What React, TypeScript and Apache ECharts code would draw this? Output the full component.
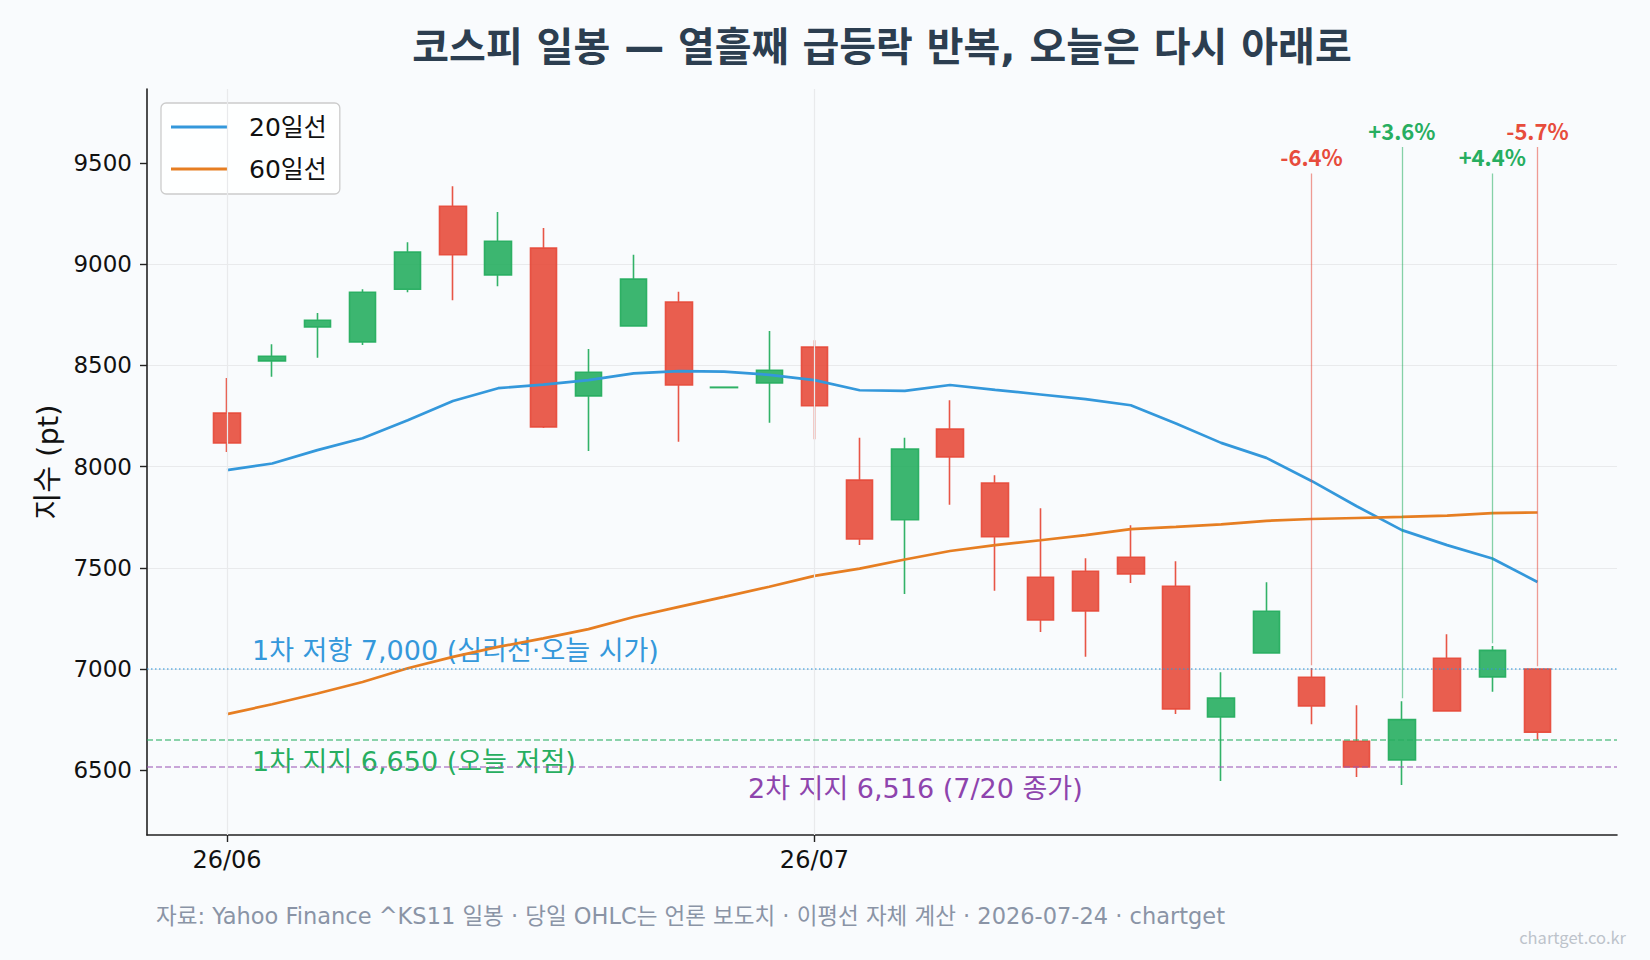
import React, { useEffect, useRef } from "react";
import * as echarts from "echarts";

// ---- data ----
const dates = [
  "06/12", "06/15", "06/16", "06/17", "06/18", "06/19", "06/22", "06/23", "06/24", "06/25",
  "06/26", "06/29", "06/30", "07/01", "07/02", "07/03", "07/06", "07/07", "07/08", "07/09",
  "07/10", "07/13", "07/14", "07/15", "07/16", "07/20", "07/21", "07/22", "07/23", "07/24",
];
const opens = [
  8264, 8522, 8690, 8616, 8876, 9286, 8947, 9079, 8349, 8695,
  8812, 8390, 8413, 8590, 7933, 7737, 8185, 7918, 7453, 7483,
  7552, 7409, 6763, 7079, 6959, 6643, 6551, 7053, 6961, 7000,
];
const closes = [
  8117, 8545, 8723, 8861, 9059, 9046, 9113, 8196, 8466, 8926,
  8403, 8392, 8476, 8300, 7643, 8086, 8048, 7653, 7242, 7287,
  7470, 6803, 6856, 7285, 6818, 6516, 6750, 6793, 7092, 6688,
];
const lows = [
  8072, 8443, 8537, 8600, 8861, 8822, 8891, 8190, 8077, 8690,
  8122, 8390, 8216, 8135, 7613, 7371, 7811, 7386, 7183, 7060,
  7425, 6778, 6447, 7079, 6727, 6467, 6427, 6790, 6887, 6650,
];
const highs = [
  8438, 8604, 8758, 8876, 9108, 9385, 9257, 9179, 8581, 9046,
  8863, 8392, 8669, 8624, 8142, 8142, 8328, 7957, 7794, 7547,
  7710, 7532, 6984, 7429, 7005, 6821, 6841, 7172, 7113, 7000,
];
const ma20 = [
  7982, 8015, 8081, 8140, 8229, 8324, 8387, 8405, 8427, 8460,
  8471, 8469, 8453, 8427, 8377, 8374, 8403, 8379, 8356, 8333,
  8303, 8213, 8117, 8043, 7929, 7804, 7686, 7612, 7546, 7430,
];
const ma60 = [
  6777, 6826, 6879, 6936, 7004, 7060, 7109, 7151, 7197, 7257,
  7307, 7356, 7406, 7460, 7496, 7541, 7583, 7612, 7636, 7661,
  7691, 7702, 7714, 7732, 7741, 7746, 7751, 7758, 7770, 7773,
];
const monthTickIndex = [0, 13];
const monthTickLabels = ["26/06", "26/07"];
const yTicks = [6500, 7000, 7500, 8000, 8500, 9000, 9500];

const annotIndex = [24, 26, 28, 29];
const annotText = ["-6.4%", "+3.6%", "+4.4%", "-5.7%"];
const annotTop = [9448, 9579, 9448, 9579];

const levelValues = [7000, 6650, 6516];
const levelLabels = [
  "1차 저항 7,000 (심리선·오늘 시가)",
  "1차 지지 6,650 (오늘 저점)",
  "2차 지지 6,516 (7/20 종가)",
];

const TITLE = "코스피 일봉 — 열흘째 급등락 반복, 오늘은 다시 아래로";
const FOOTER =
  "자료: Yahoo Finance ^KS11 일봉 · 당일 OHLC는 언론 보도치 · 이평선 자체 계산 · 2026-07-24 · chartget";
const WATERMARK = "chartget.co.kr";

// ---- styles ----
const FONT = "'DejaVu Sans', 'Noto Sans CJK KR', sans-serif";
const CJK = "'Noto Sans CJK KR', 'Noto Sans', sans-serif";
const RED = "#e74c3c";
const GREEN = "#27ae60";
const BLUE = "#3498db";
const ORANGE = "#e67e22";
const PURPLE_TEXT = "#8e44ad";
const BG = "#f9fbfd";
const RED_LINE = "rgba(231,76,60,0.55)";
const GREEN_LINE = "rgba(39,174,96,0.55)";

function buildOption() {
  const candleData = dates.map((_, i) => [i, opens[i], closes[i], lows[i], highs[i]]);
  const isUp = annotIndex.map((idx) => closes[idx] >= closes[idx - 1]);

  const levelStyles = [
    { color: "rgba(52,152,219,0.75)", type: [1.5, 2.5] },
    { color: "rgba(39,174,96,0.7)", type: [6, 3] },
    { color: "rgba(155,89,182,0.7)", type: [6, 3] },
  ];

  const markLineData: any[] = levelValues.map((v, k) => ({
    yAxis: v,
    lineStyle: { color: levelStyles[k].color, type: levelStyles[k].type, width: 1.5 },
    label: { show: false },
  }));

  annotIndex.forEach((idx, k) => {
    const up = isUp[k];
    markLineData.push([
      {
        coord: [idx, highs[idx] + 14],
        lineStyle: { color: up ? GREEN_LINE : RED_LINE, width: 1.3, type: "solid" },
        label: {
          show: true,
          position: "end",
          formatter: annotText[k],
          color: up ? GREEN : RED,
          fontWeight: "bold",
          fontSize: 22,
          fontFamily: CJK,
          distance: 6,
        },
      },
      { coord: [idx, annotTop[k]] },
    ]);
  });

  const levelTextStyle = (text: string, fill: string) => ({
    text,
    fill,
    fontSize: 27,
    fontFamily: FONT,
    align: "left",
    verticalAlign: "middle",
  });

  const graphic: any[] = [
    {
      type: "text",
      x: 882,
      y: 47,
      style: {
        text: TITLE,
        fill: "#2c3e50",
        fontSize: 40,
        fontWeight: "bold",
        fontFamily: FONT,
        align: "center",
        verticalAlign: "middle",
      },
    },
    {
      type: "text",
      x: 156,
      y: 916,
      style: {
        text: FOOTER,
        fill: "#8a94a6",
        fontSize: 22.5,
        fontFamily: FONT,
        align: "left",
        verticalAlign: "middle",
      },
    },
    {
      type: "text",
      x: 1626,
      y: 937,
      style: {
        text: WATERMARK,
        fill: "#bdc3cb",
        fontSize: 16.5,
        fontFamily: CJK,
        align: "right",
        verticalAlign: "middle",
      },
    },
    { type: "text", x: 252, y: 650, style: levelTextStyle(levelLabels[0], BLUE) },
    { type: "text", x: 252, y: 761, style: levelTextStyle(levelLabels[1], GREEN) },
    { type: "text", x: 748, y: 788, style: levelTextStyle(levelLabels[2], PURPLE_TEXT) },
  ];

  return {
    animation: false,
    backgroundColor: BG,
    textStyle: { fontFamily: FONT },
    grid: { left: 147, right: 33, top: 89, bottom: 125, containLabel: false },
    legend: {
      data: ["20일선", "60일선"],
      orient: "vertical",
      left: 161,
      top: 103,
      icon: "rect",
      itemWidth: 57,
      itemHeight: 3,
      itemGap: 12,
      padding: [9, 13, 10, 10],
      backgroundColor: "rgba(255,255,255,0.85)",
      borderColor: "#cccccc",
      borderWidth: 1.3,
      borderRadius: 5,
      textStyle: { fontSize: 25, color: "#111", fontFamily: FONT, lineHeight: 30, padding: [0, 0, 0, 16] },
    },
    xAxis: {
      type: "value",
      min: -1.77,
      max: 30.76,
      axisLine: { show: true, onZero: false, lineStyle: { color: "#222", width: 1.6 } },
      axisTick: { show: true, length: 7, lineStyle: { color: "#222", width: 1.4 }, customValues: monthTickIndex },
      axisLabel: {
        customValues: monthTickIndex,
        formatter: (v: number) => monthTickLabels[monthTickIndex.indexOf(Math.round(v))] ?? "",
        fontSize: 24,
        color: "#111",
        margin: 13,
        fontFamily: FONT,
      },
      splitLine: { show: false },
    },
    yAxis: {
      type: "value",
      min: 6180,
      max: 9865,
      splitNumber: 7,
      name: "지수 (pt)",
      nameLocation: "middle",
      nameGap: 85,
      nameTextStyle: { fontSize: 29, color: "#111", fontFamily: FONT },
      axisLine: { show: true, onZero: false, lineStyle: { color: "#222", width: 1.6 } },
      axisTick: { show: true, length: 7, lineStyle: { color: "#222", width: 1.4 }, customValues: yTicks },
      axisLabel: {
        customValues: yTicks,
        formatter: (v: number) => String(Math.round(v)),
        fontSize: 23,
        color: "#111",
        margin: 15,
        fontFamily: FONT,
      },
      splitLine: { show: true, showMinLine: false, showMaxLine: false, lineStyle: { color: "#e9eaec", width: 1.2 } },
    },
    graphic,
    series: [
      {
        name: "vgrid",
        type: "line",
        data: [],
        z: 1,
        silent: true,
        markLine: {
          silent: true,
          symbol: ["none", "none"],
          label: { show: false },
          lineStyle: { color: "#e9eaec", width: 1.2, type: "solid" },
          data: monthTickIndex.map((i) => ({ xAxis: i })),
        },
      },
      {
        name: "일봉",
        type: "candlestick",
        data: candleData,
        barWidth: 27,
        itemStyle: {
          color: "rgba(39,174,96,0.9)",
          color0: "rgba(231,76,60,0.9)",
          borderColor: "rgba(39,174,96,0.95)",
          borderColor0: "rgba(231,76,60,0.95)",
          borderWidth: 1.6,
        },
        markLine: {
          silent: true,
          symbol: ["none", "none"],
          label: { show: false },
          data: markLineData,
        },
      },
      {
        name: "20일선",
        type: "line",
        data: ma20.map((v, i) => [i, v]),
        showSymbol: false,
        symbol: "none",
        color: BLUE,
        lineStyle: { color: BLUE, width: 2.7 },
      },
      {
        name: "60일선",
        type: "line",
        data: ma60.map((v, i) => [i, v]),
        showSymbol: false,
        symbol: "none",
        color: ORANGE,
        lineStyle: { color: ORANGE, width: 2.7 },
      },
    ],
  };
}

export default function App() {
  const ref = useRef<HTMLDivElement>(null);
  useEffect(() => {
    if (!ref.current) return;
    const chart = echarts.init(ref.current, null, { renderer: "svg" });
    chart.setOption(buildOption() as any);
    return () => chart.dispose();
  }, []);
  return (
    <div
      ref={ref}
      style={{ position: "fixed", left: 0, top: 0, width: 1650, height: 960, background: BG }}
    />
  );
}
